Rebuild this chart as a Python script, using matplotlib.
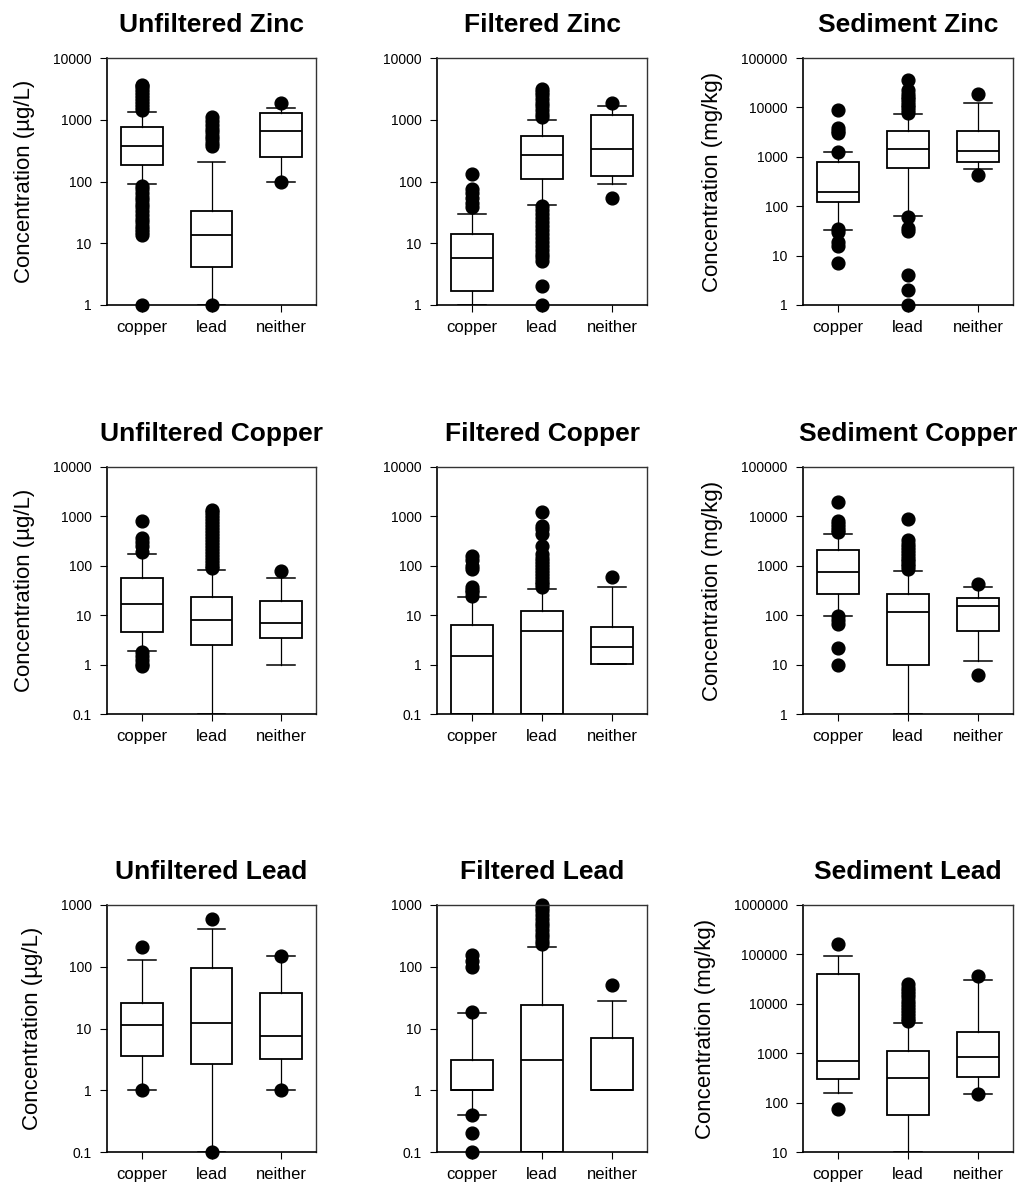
import matplotlib
matplotlib.use('Agg')
import matplotlib.pyplot as plt
from matplotlib.ticker import LogLocator, FuncFormatter, NullLocator

plt.rcParams['font.family'] = ['Liberation Sans', 'DejaVu Sans']

groups = ['copper', 'lead', 'neither']

# box stats per group: [whisker low, q1, median, q3, whisker high]
uf_zinc_box = [[91, 184, 370, 770, 1350], [1, 4.1, 13.5, 33, 210], [100, 245, 660, 1280, 1570]]
uf_zinc_fliers = [[1, 13.5, 15, 17, 19, 22, 25, 29, 33, 38, 44, 50, 57, 65, 75, 85,
                   1450, 1600, 1800, 2000, 2250, 2500, 2800, 3100, 3500, 3700],
                  [1, 370, 420, 480, 550, 630, 720, 820, 950, 1100],
                  [100, 1850]]

f_zinc_box = [[1, 1.7, 5.7, 14, 30], [42, 110, 265, 540, 1000], [90, 125, 330, 1190, 1650]]
f_zinc_fliers = [[38, 45, 55, 65, 75, 130],
                 [1.0, 2.0, 5.2, 5.9, 6.8, 7.8, 9, 10.5, 12, 14, 16.5, 19, 22, 26, 30, 35, 40,
                  1100, 1250, 1450, 1650, 1900, 2200, 2500, 2850, 3200],
                 [55, 1850]]

s_zinc_box = [[33, 122, 190, 800, 1280], [63, 580, 1450, 3300, 7200], [560, 790, 1300, 3400, 12500]]
s_zinc_fliers = [[7.2, 15.5, 19, 30, 35, 1280, 3000, 3400, 3900, 9000],
                 [1.0, 2.0, 4.1, 31, 36, 60,
                  7800, 8800, 10000, 11300, 12800, 14500, 16500, 19000, 22000, 36000],
                 [420, 18500]]

uf_copper_box = [[1.85, 4.6, 16.5, 57, 170], [0.1, 2.45, 7.9, 23.5, 82], [1.0, 3.45, 7.1, 19.5, 57]]
uf_copper_fliers = [[0.95, 1.05, 1.25, 1.5, 1.8, 190, 250, 300, 370, 800],
                    [90, 100, 115, 130, 150, 170, 195, 225, 260, 300, 345, 400, 460, 530,
                     610, 700, 800, 920, 1050, 1200, 1350],
                    [78]]

f_copper_box = [[0.1, 0.1, 1.5, 6.4, 23], [0.1, 0.1, 4.9, 12.4, 34], [1.02, 1.02, 2.3, 5.9, 37]]
f_copper_fliers = [[25, 29, 33, 38, 85, 100, 130, 155],
                   [37, 42, 48, 55, 63, 72, 82, 95, 110, 125, 145, 170, 250, 450, 560, 650, 1200],
                   [59]]

s_copper_box = [[98, 270, 750, 2050, 4500], [1, 10, 118, 270, 800], [12, 47, 155, 225, 380]]
s_copper_fliers = [[10, 22, 66, 80, 95, 4800, 5400, 6100, 7000, 8000, 20000],
                   [870, 980, 1100, 1250, 1400, 1600, 1800, 2100, 2400, 2800, 3300, 8900],
                   [6.2, 430]]

uf_lead_box = [[1.0, 3.6, 11.3, 26, 128], [0.1, 2.65, 12.5, 95, 410], [1.0, 3.25, 7.6, 37, 150]]
uf_lead_fliers = [[1.0, 205], [0.1, 600], [1.0, 150]]

f_lead_box = [[0.4, 1.0, 1.0, 3.1, 17.5], [0.1, 0.1, 3.05, 24, 210], [1.0, 1.0, 1.0, 7.1, 27.5]]
f_lead_fliers = [[0.1, 0.2, 0.4, 18.5, 100, 125, 155],
                 [230, 260, 300, 340, 390, 450, 520, 600, 690, 790, 900, 1000],
                 [51]]

s_lead_box = [[160, 306, 690, 40000, 92000], [10, 55, 310, 1100, 4000], [152, 335, 840, 2650, 30000]]
s_lead_fliers = [[75, 162000],
                 [4400, 5000, 5700, 6500, 7500, 8600, 10000, 11500, 13500, 15500, 18000, 21000, 25000],
                 [152, 37000]]

water_label = 'Concentration (\u00b5g/L)'
sed_label = 'Concentration (mg/kg)'

panels = [
    ('Unfiltered Zinc', water_label, (1, 1e4), uf_zinc_box, uf_zinc_fliers),
    ('Filtered Zinc', None, (1, 1e4), f_zinc_box, f_zinc_fliers),
    ('Sediment Zinc', sed_label, (1, 1e5), s_zinc_box, s_zinc_fliers),
    ('Unfiltered Copper', water_label, (0.1, 1e4), uf_copper_box, uf_copper_fliers),
    ('Filtered Copper', None, (0.1, 1e4), f_copper_box, f_copper_fliers),
    ('Sediment Copper', sed_label, (1, 1e5), s_copper_box, s_copper_fliers),
    ('Unfiltered Lead', water_label, (0.1, 1e3), uf_lead_box, uf_lead_fliers),
    ('Filtered Lead', None, (0.1, 1e3), f_lead_box, f_lead_fliers),
    ('Sediment Lead', sed_label, (10, 1e6), s_lead_box, s_lead_fliers),
]

W, H = 1021, 1186
col_left = [107, 437, 803]
col_w = [209, 210, 210]
row_top = [58, 467, 905]
row_h = 247


def tick_fmt(v, pos):
    return f'{v:.0f}' if v >= 1 else f'{v:g}'


fig = plt.figure(figsize=(W / 100, H / 100), dpi=100)

for i, (title, ylabel, ylim, box, fliers) in enumerate(panels):
    r, c = divmod(i, 3)
    ax = fig.add_axes([col_left[c] / W, 1 - (row_top[r] + row_h) / H, col_w[c] / W, row_h / H])

    stats = []
    for name, b, fl in zip(groups, box, fliers):
        stats.append(dict(label=name, whislo=b[0], q1=b[1], med=b[2], q3=b[3], whishi=b[4], fliers=fl))

    art = ax.bxp(stats, positions=[1, 2, 3], widths=0.6, capwidths=0.4, patch_artist=True,
                 boxprops=dict(facecolor='white', edgecolor='black', linewidth=1.3),
                 medianprops=dict(color='black', linewidth=1.3),
                 whiskerprops=dict(color='black', linewidth=0.9),
                 capprops=dict(color='black', linewidth=1.1),
                 flierprops=dict(marker='o', markersize=9.2, markerfacecolor='black',
                                 markeredgecolor='black', linestyle='none'))
    for f in art['fliers']:
        f.set_clip_on(False)

    ax.set_yscale('log')
    ax.set_ylim(*ylim)
    ax.set_xlim(0.5, 3.5)
    ax.yaxis.set_major_locator(LogLocator(base=10, numticks=10))
    ax.yaxis.set_minor_locator(NullLocator())
    ax.yaxis.set_major_formatter(FuncFormatter(tick_fmt))
    ax.tick_params(axis='y', direction='out', length=5, width=0.8, pad=6, labelsize=10)
    ax.tick_params(axis='x', direction='out', length=5, width=0.8, pad=6, labelsize=12)

    for side in ['left', 'bottom']:
        ax.spines[side].set_linewidth(1.2)
        ax.spines[side].set_color('black')
    for side in ['top', 'right']:
        ax.spines[side].set_linewidth(1.0)
        ax.spines[side].set_color('#333333')

    ax.set_title(title, fontsize=19, fontweight='bold', pad=19)
    if ylabel:
        ax.set_ylabel(ylabel, fontsize=16, labelpad=13)

fig.savefig('out.png', dpi=100)
plt.close(fig)
